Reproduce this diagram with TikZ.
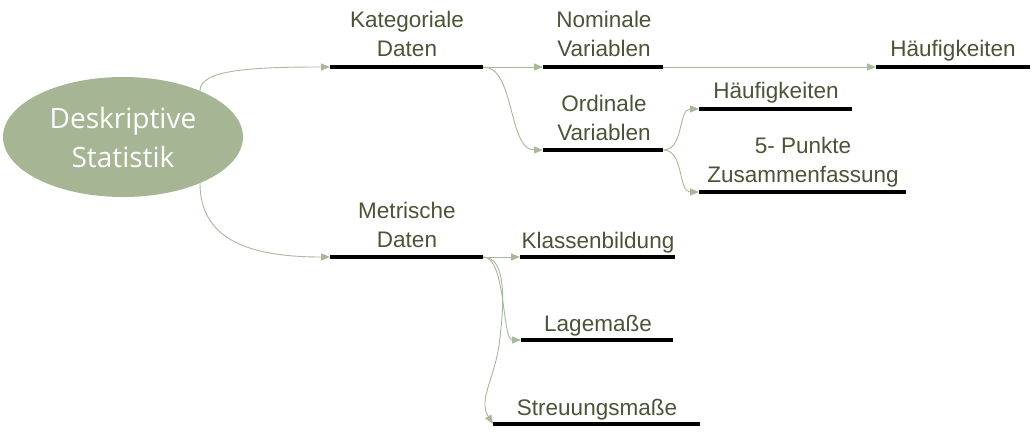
\documentclass[tikz,border=0pt]{standalone}
\usepackage{fontspec}
\setmainfont{Liberation Sans}
\newfontfamily\ellfont{Open Sans}
\usetikzlibrary{arrows.meta,shapes.geometric}
\definecolor{txt}{HTML}{4A5436}
\definecolor{ellfill}{HTML}{A6B594}
\definecolor{conn}{HTML}{A9B79B}
\tikzset{
  bar/.style={fill=black,inner sep=0pt,minimum height=3.8pt,anchor=west},
  lbl/.style={text=txt,font=\fontsize{22.5}{29}\selectfont,align=center,anchor=base,inner sep=0pt},
  conn/.style={draw=conn,line width=0.9pt,-{Triangle[length=9pt,width=7pt]}}
}
\begin{document}
\begin{tikzpicture}[x=1pt,y=-1pt]
\useasboundingbox (0,0) rectangle (1032,433);
% root ellipse
\node[ellipse,fill=ellfill,minimum width=240pt,minimum height=120pt,inner sep=0pt,
      text=white,font=\ellfont\fontsize{28}{39}\selectfont,align=center] (root) at (123,137)
      {Deskriptive\\Statistik};
% bars
\node[bar,minimum width=153pt] (kat) at (330,67) {};
\node[bar,minimum width=120pt] (nom) at (543,67) {};
\node[bar,minimum width=120pt] (ord) at (543,150) {};
\node[bar,minimum width=154pt] (hf1) at (876,67) {};
\node[bar,minimum width=153pt] (hf2) at (699,109) {};
\node[bar,minimum width=207pt] (fuenf) at (699,192) {};
\node[bar,minimum width=153pt] (met) at (330,257) {};
\node[bar,minimum width=155pt] (kla) at (520,257) {};
\node[bar,minimum width=152pt] (lag) at (521,340) {};
\node[bar,minimum width=207pt] (str) at (493,424) {};
% labels (anchor = baseline of last line)
\node[lbl] (katl) at (407,57) {Kategoriale\\Daten};
\node[lbl] (noml) at (604,57) {Nominale\\Variablen};
\node[lbl] (ordl) at (604,140) {Ordinale\\Variablen};
\node[lbl] (hf1l) at (953,57) {Häufigkeiten};
\node[lbl] (hf2l) at (776,99) {Häufigkeiten};
\node[lbl] (fuenfl) at (803,182) {5- Punkte\\Zusammenfassung};
\node[lbl] (metl) at (407,247) {Metrische\\Daten};
\node[lbl] (klal) at (598,248) {Klassenbildung};
\node[lbl] (lagl) at (598,331) {Lagemaße};
\node[lbl] (strl) at (597,415) {Streuungsmaße};
% connectors
\draw[conn] (root.31) .. controls (200,70) and (250,67) .. (kat.west);
\draw[conn] (root.-31) .. controls (200,240) and (250,257) .. (met.west);
\draw[conn] (kat.east) -- (nom.west);
\draw[conn] (kat.east) .. controls (515,67) and (508,150) .. (ord.west);
\draw[conn] (nom.east) -- (hf1.west);
\draw[conn] (ord.east) .. controls (684,150) and (678,109) .. (hf2.west);
\draw[conn] (ord.east) .. controls (684,150) and (678,192) .. (fuenf.west);
\draw[conn] (met.east) -- (kla.west);
\draw[conn] (met.east) .. controls (506,257) and (502,340) .. (lag.west);
\draw[conn] (met.east) .. controls (506,257) and (505,300) .. (499,345)
                       .. controls (494,380) and (478,400) .. (str.west);
\end{tikzpicture}
\end{document}
